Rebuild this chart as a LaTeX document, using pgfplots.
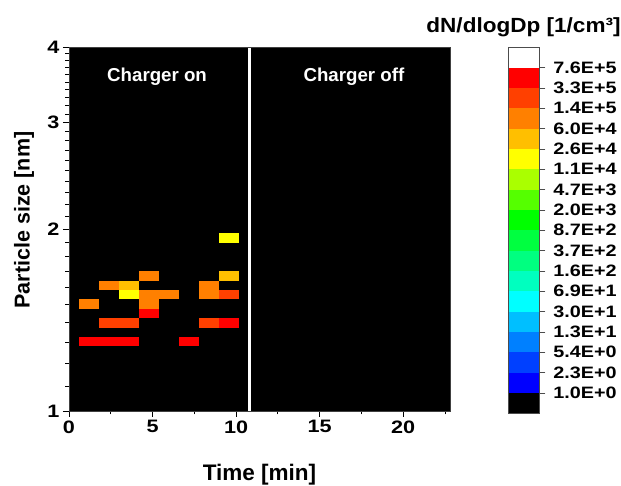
\documentclass[border=0pt]{standalone}
\usepackage{pgfplots}
\pgfplotsset{compat=1.18}
\usepackage{fontspec}
\setmainfont{Liberation Sans}
\newfontfamily\widefont{Liberation Sans}[FakeStretch=1.2]
\newfontfamily\titlefont{Liberation Sans}[FakeStretch=1.1]
\definecolor{cR}{HTML}{FF0000}
\definecolor{cRO}{HTML}{FF4000}
\definecolor{cO}{HTML}{FF8000}
\definecolor{cA}{HTML}{FFBF00}
\definecolor{cY}{HTML}{FFFF00}
\definecolor{cYG}{HTML}{AAFF00}
\definecolor{cLG}{HTML}{55FF00}
\definecolor{cG}{HTML}{00FF00}
\definecolor{cG2}{HTML}{00FF40}
\definecolor{cSG}{HTML}{00FF80}
\definecolor{cAQ}{HTML}{00FFBF}
\definecolor{cC}{HTML}{00FFFF}
\definecolor{cSB}{HTML}{00BFFF}
\definecolor{cAZ}{HTML}{0080FF}
\definecolor{cB2}{HTML}{0040FF}
\definecolor{cB}{HTML}{0000FF}
\begin{document}
\begin{tikzpicture}
\useasboundingbox (-69bp,-75bp) rectangle (552bp,411bp);
\begin{axis}[
  name=main, at={(0,0)}, anchor=south west,
  width=381bp, height=364bp, scale only axis,
  xmin=0, xmax=22.8, ymin=1, ymax=4, ymode=log,
  axis background/.style={fill=black},
  axis on top=true,
  xtick={0,5,10,15,20}, xticklabels={0,5,10,15,20},
  minor xtick={2.5,7.5,12.5,17.5,22.5},
  ytick={1,2,3,4}, yticklabels={1,2,3,4},
  minor ytick={1.1,1.2,1.3,1.4,1.5,1.6,1.7,1.8,1.9,2.1,2.2,2.3,2.4,2.5,2.6,2.7,2.8,2.9,3.1,3.2,3.3,3.4,3.5,3.6,3.7,3.8,3.9},
  xtick pos=left, ytick pos=left, tick align=outside,
  major tick length=6bp, minor tick length=3.5bp,
  tick style={black, line width=0.8bp},
  axis line style={black!75, line width=0.8bp},
  tick label style={font=\widefont\bfseries\fontsize{18bp}{20bp}\selectfont},
  /pgf/number format/assume math mode=true,
]
% heatmap cells (time [min], diameter [nm])
\addplot[fill=cR, draw=none] coordinates {(0.6,1.2792) (4.2,1.2792) (4.2,1.3257) (0.6,1.3257)} --cycle;
\addplot[fill=cR, draw=none] coordinates {(6.6,1.2792) (7.8,1.2792) (7.8,1.3257) (6.6,1.3257)} --cycle;
\addplot[fill=cRO, draw=none] coordinates {(1.8,1.3740) (4.2,1.3740) (4.2,1.4240) (1.8,1.4240)} --cycle;
\addplot[fill=cRO, draw=none] coordinates {(7.8,1.3740) (9.0,1.3740) (9.0,1.4240) (7.8,1.4240)} --cycle;
\addplot[fill=cR, draw=none] coordinates {(9.0,1.3740) (10.2,1.3740) (10.2,1.4240) (9.0,1.4240)} --cycle;
\addplot[fill=cR, draw=none] coordinates {(4.2,1.4240) (5.4,1.4240) (5.4,1.4758) (4.2,1.4758)} --cycle;
\addplot[fill=cO, draw=none] coordinates {(0.6,1.4758) (1.8,1.4758) (1.8,1.5295) (0.6,1.5295)} --cycle;
\addplot[fill=cO, draw=none] coordinates {(4.2,1.4758) (5.4,1.4758) (5.4,1.5856) (4.2,1.5856)} --cycle;
\addplot[fill=cY, draw=none] coordinates {(3.0,1.5295) (4.2,1.5295) (4.2,1.5856) (3.0,1.5856)} --cycle;
\addplot[fill=cO, draw=none] coordinates {(5.4,1.5295) (6.6,1.5295) (6.6,1.5856) (5.4,1.5856)} --cycle;
\addplot[fill=cO, draw=none] coordinates {(7.8,1.5295) (9.0,1.5295) (9.0,1.6433) (7.8,1.6433)} --cycle;
\addplot[fill=cRO, draw=none] coordinates {(9.0,1.5295) (10.2,1.5295) (10.2,1.5856) (9.0,1.5856)} --cycle;
\addplot[fill=cO, draw=none] coordinates {(1.8,1.5856) (3.0,1.5856) (3.0,1.6433) (1.8,1.6433)} --cycle;
\addplot[fill=cA, draw=none] coordinates {(3.0,1.5856) (4.2,1.5856) (4.2,1.6433) (3.0,1.6433)} --cycle;
\addplot[fill=cO, draw=none] coordinates {(4.2,1.6433) (5.4,1.6433) (5.4,1.7031) (4.2,1.7031)} --cycle;
\addplot[fill=cA, draw=none] coordinates {(9.0,1.6433) (10.2,1.6433) (10.2,1.7031) (9.0,1.7031)} --cycle;
\addplot[fill=cY, draw=none] coordinates {(9.0,1.8963) (10.2,1.8963) (10.2,1.9702) (9.0,1.9702)} --cycle;
% charger switch
\addplot[white, line width=3.5bp] coordinates {(10.8,1) (10.8,4)};
\node[white, font=\bfseries\fontsize{18.7bp}{20bp}\selectfont] at (axis cs:5.27,3.568) {Charger on};
\node[white, font=\bfseries\fontsize{18.7bp}{20bp}\selectfont] at (axis cs:17.05,3.568) {Charger off};
\end{axis}
\begin{axis}[
  at={(439.3bp,-2.3bp)}, anchor=south west,
  width=31bp, height=366bp, scale only axis,
  xmin=0, xmax=1, ymin=0, ymax=18,
  axis on top=true,
  xtick=\empty,
  ytick={1,2,3,4,5,6,7,8,9,10,11,12,13,14,15,16,17},
  yticklabels={1.0E+0,2.3E+0,5.4E+0,1.3E+1,3.0E+1,6.9E+1,1.6E+2,3.7E+2,8.7E+2,2.0E+3,4.7E+3,1.1E+4,2.6E+4,6.0E+4,1.4E+5,3.3E+5,7.6E+5},
  ytick pos=right, yticklabel pos=right, tick align=outside,
  major tick length=6bp,
  tick style={black!70, line width=0.8bp},
  axis line style={black!70, line width=0.8bp},
  yticklabel style={font=\widefont\bfseries\fontsize{16.5bp}{18bp}\selectfont, xshift=4.5bp},
]
\addplot[fill=black, draw=none] coordinates {(0,0) (1,0) (1,1) (0,1)} --cycle;
\addplot[fill=cB, draw=none] coordinates {(0,1) (1,1) (1,2) (0,2)} --cycle;
\addplot[fill=cB2, draw=none] coordinates {(0,2) (1,2) (1,3) (0,3)} --cycle;
\addplot[fill=cAZ, draw=none] coordinates {(0,3) (1,3) (1,4) (0,4)} --cycle;
\addplot[fill=cSB, draw=none] coordinates {(0,4) (1,4) (1,5) (0,5)} --cycle;
\addplot[fill=cC, draw=none] coordinates {(0,5) (1,5) (1,6) (0,6)} --cycle;
\addplot[fill=cAQ, draw=none] coordinates {(0,6) (1,6) (1,7) (0,7)} --cycle;
\addplot[fill=cSG, draw=none] coordinates {(0,7) (1,7) (1,8) (0,8)} --cycle;
\addplot[fill=cG2, draw=none] coordinates {(0,8) (1,8) (1,9) (0,9)} --cycle;
\addplot[fill=cG, draw=none] coordinates {(0,9) (1,9) (1,10) (0,10)} --cycle;
\addplot[fill=cLG, draw=none] coordinates {(0,10) (1,10) (1,11) (0,11)} --cycle;
\addplot[fill=cYG, draw=none] coordinates {(0,11) (1,11) (1,12) (0,12)} --cycle;
\addplot[fill=cY, draw=none] coordinates {(0,12) (1,12) (1,13) (0,13)} --cycle;
\addplot[fill=cA, draw=none] coordinates {(0,13) (1,13) (1,14) (0,14)} --cycle;
\addplot[fill=cO, draw=none] coordinates {(0,14) (1,14) (1,15) (0,15)} --cycle;
\addplot[fill=cRO, draw=none] coordinates {(0,15) (1,15) (1,16) (0,16)} --cycle;
\addplot[fill=cR, draw=none] coordinates {(0,16) (1,16) (1,17) (0,17)} --cycle;
\addplot[fill=white, draw=none] coordinates {(0,17) (1,17) (1,18) (0,18)} --cycle;
\end{axis}
\node[anchor=base, font=\titlefont\bfseries\fontsize{20.5bp}{23bp}\selectfont] at (454.5bp,378bp) {dN/dlogDp [1/cm³]};
\node[anchor=base, font=\bfseries\fontsize{22.5bp}{24bp}\selectfont] at (190.5bp,-69bp) {Time [min]};
\node[anchor=base, rotate=90, font=\bfseries\fontsize{21.5bp}{24bp}\selectfont] at (-39.5bp,191bp) {Particle size [nm]};
\end{tikzpicture}
\end{document}
